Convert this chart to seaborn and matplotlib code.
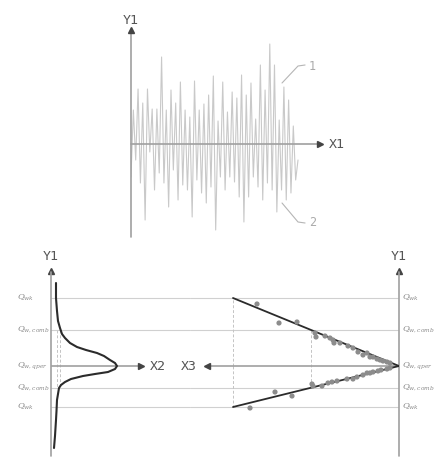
import numpy as np
import pandas as pd
import matplotlib
matplotlib.use("Agg")
import matplotlib.pyplot as plt
import seaborn as sns

# top panel: signal peaks / troughs (relative to X1 axis)
sig_up = [34, 55, 41, 55, 35, 35, 87, 34, 54, 41, 62, 34, 27, 63, 34, 40, 49, 68,
          23, 62, 32, 52, 46, 69, 49, 61, 25, 79, 54, 100, 79, 24, 57, 44, 18]
sig_down = [-33, -16, -39, -76, -8, -46, -29, -39, -63, -26, -56, -41, -46, -73, -36,
            -49, -59, -43, -86, -33, -46, -33, -38, -53, -78, -53, -33, -43, -56, -39,
            -46, -68, -46, -56, -49, -36, -16]

# bottom panel: characteristic levels
q_labels = ['$Q_{wk}$', '$Q_{w,comb}$', '$Q_{w,qper}$', '$Q_{w,comb}$', '$Q_{wk}$']
q_levels = [68, 36, 0, -22, -41]

# distribution curve (left)
dist_y = [83, 68, 55, 45, 38, 32, 28, 23, 19, 16, 13, 10, 6, 3, 0, -3, -6, -8, -10,
          -13, -16, -19, -22, -28, -34, -45, -54, -70, -82]
dist_x = [5, 5, 6, 7, 9, 11, 14, 19, 26, 35, 46, 53, 59, 64, 66, 64, 57, 44, 32,
          20, 14, 10, 8, 7, 6, 5.5, 5, 4, 3]

# scatter points (right), X3 measured leftwards from the apex
pts_up_x = [142, 120, 102, 84, 83, 74, 69, 66, 65, 59, 51, 46, 41, 36, 32, 29, 26, 22, 19, 16, 12, 9]
pts_up_y = [62, 43, 44, 33, 29, 30, 28, 26, 23, 23, 20, 18, 14, 11, 13, 9, 9, 7, 6, 5, 4, 3]
pts_lo_x = [149, 124, 107, 87, 86, 77, 71, 67, 62, 52, 46, 42, 36, 32, 29, 26, 21, 18, 12, 9]
pts_lo_y = [-42, -26, -30, -18, -20, -20, -17, -16, -15, -13, -13, -11, -9, -7, -7, -6, -5, -4, -3, -2]
v_extent = 166
v_ends = [68, -41]

sns.set_style("white")
plt.rcParams['font.family'] = ['DejaVu Sans Mono', 'DejaVu Sans']
plt.rcParams['mathtext.fontset'] = 'dejavuserif'

W, H = 436, 457
fig = plt.figure(figsize=(W / 100, H / 100), dpi=100)

axis_c = '#a0a0a0'
head_c = '#444444'
txt_c = '#555555'


def px_box(x0, y0, x1, y1):
    return [x0 / W, (H - y1) / H, (x1 - x0) / W, (y1 - y0) / H]


# ---------------- top panel
ax = fig.add_axes(px_box(131, 15, 350, 240))
ax.set_xlim(0, 93.1)
ax.set_ylim(-96, 129)
ax.axis('off')

signal = []
for i in range(len(sig_down)):
    signal.append(sig_down[i])
    if i < len(sig_up):
        signal.append(sig_up[i])
df_sig = pd.DataFrame({'t': np.arange(len(signal)), 'v': signal})
sns.lineplot(data=df_sig, x='t', y='v', ax=ax, color='#c9c9c9', lw=0.8)

ax.plot([0, 0], [-93, 113], color=axis_c, lw=1.2, clip_on=False)
ax.plot([0], [114], marker='^', ms=5, color=head_c, clip_on=False)
ax.plot([0, 79.5], [0, 0], color=axis_c, lw=1.2, clip_on=False)
ax.plot([80.2], [0], marker='>', ms=5, color=head_c, clip_on=False)
ax.text(0, 124, 'Y1', ha='center', va='center', fontsize=9.5, color=txt_c)
ax.text(84.2, 0, 'X1', ha='left', va='center', fontsize=9.5, color=txt_c)

lead_c = '#b5b5b5'
ax.plot([64.2, 71.0, 74.0], [61, 78, 79], color=lead_c, lw=0.8)
ax.plot([64.2, 71.0, 74.0], [-59, -78, -79], color=lead_c, lw=0.8)
ax.text(75.6, 78, '1', ha='left', va='center', fontsize=8.5, color='#aaaaaa')
ax.text(75.6, -79, '2', ha='left', va='center', fontsize=8.5, color='#aaaaaa')

# ---------------- bottom left: distribution
axl = fig.add_axes(px_box(51, 250, 190, 457))
axl.set_xlim(0, 139)
axl.set_ylim(-91, 116)
axl.axis('off')

axr = fig.add_axes(px_box(190, 250, 399, 457))
axr.set_xlim(209, 0)
axr.set_ylim(-91, 116)
axr.axis('off')

grid_c = '#d0d0d0'
for lv in q_levels:
    if lv != 0:
        axl.plot([0, 139], [lv, lv], color=grid_c, lw=0.8, zorder=1)
        axr.plot([0, 209], [lv, lv], color=grid_c, lw=0.8, zorder=1)

df_dist = pd.DataFrame({'d': dist_x, 'y': dist_y})
sns.lineplot(data=df_dist, x='d', y='y', sort=False, estimator=None, ax=axl,
             color='#2b2b2b', lw=1.5, zorder=4)

dash_c = '#c4c4c4'
for dx in [6, 9]:
    axl.plot([dx, dx], [q_levels[1], q_levels[3]], color=dash_c, lw=0.7, ls=(0, (3, 2)), zorder=2)

axl.plot([0, 0], [-90, 94], color=axis_c, lw=1.2, clip_on=False, zorder=3)
axl.plot([0], [95], marker='^', ms=5, color=head_c, clip_on=False)
axl.plot([0, 89], [0, 0], color=axis_c, lw=1.2, zorder=3)
axl.plot([90], [0], marker='>', ms=5, color=head_c, zorder=5)
axl.text(0, 109, 'Y1', ha='center', va='center', fontsize=9.5, color=txt_c)
axl.text(99, 0, 'X2', ha='left', va='center', fontsize=9.5, color=txt_c)

for lab, lv in zip(q_labels, q_levels):
    axl.text(-34, lv, lab, ha='left', va='center', fontsize=6, color='#8a8a8a')
    axr.text(-3, lv, lab, ha='left', va='center', fontsize=6, color='#8a8a8a', clip_on=False)

# ---------------- bottom right: envelope
for end in v_ends:
    axr.plot([v_extent, v_extent], [0, end], color=dash_c, lw=0.7, ls=(0, (3, 2)), zorder=2)
    axr.plot([0, v_extent], [0, end], color='#2b2b2b', lw=1.3, zorder=4)
mid = 88
axr.plot([mid, mid], [q_levels[1], q_levels[3]], color=dash_c, lw=0.7, ls=(0, (3, 2)), zorder=2)

df_pts = pd.DataFrame({'x': pts_up_x + pts_lo_x, 'y': pts_up_y + pts_lo_y})
sns.scatterplot(data=df_pts, x='x', y='y', ax=axr, color='#8c8c8c', s=14,
                edgecolor='none', zorder=5)

axr.plot([0, 0], [-90, 94], color=axis_c, lw=1.2, clip_on=False, zorder=3)
axr.plot([0], [95], marker='^', ms=5, color=head_c, clip_on=False)
axr.plot([0, 191], [0, 0], color=axis_c, lw=1.2, zorder=3)
axr.plot([192], [0], marker='<', ms=5, color=head_c, zorder=5)
axr.text(0, 109, 'Y1', ha='center', va='center', fontsize=9.5, color=txt_c)
axr.text(202, 0, 'X3', ha='right', va='center', fontsize=9.5, color=txt_c, clip_on=False)
axr.set_xlabel('')
axr.set_ylabel('')

fig.savefig('out.png', dpi=100, facecolor='white')
